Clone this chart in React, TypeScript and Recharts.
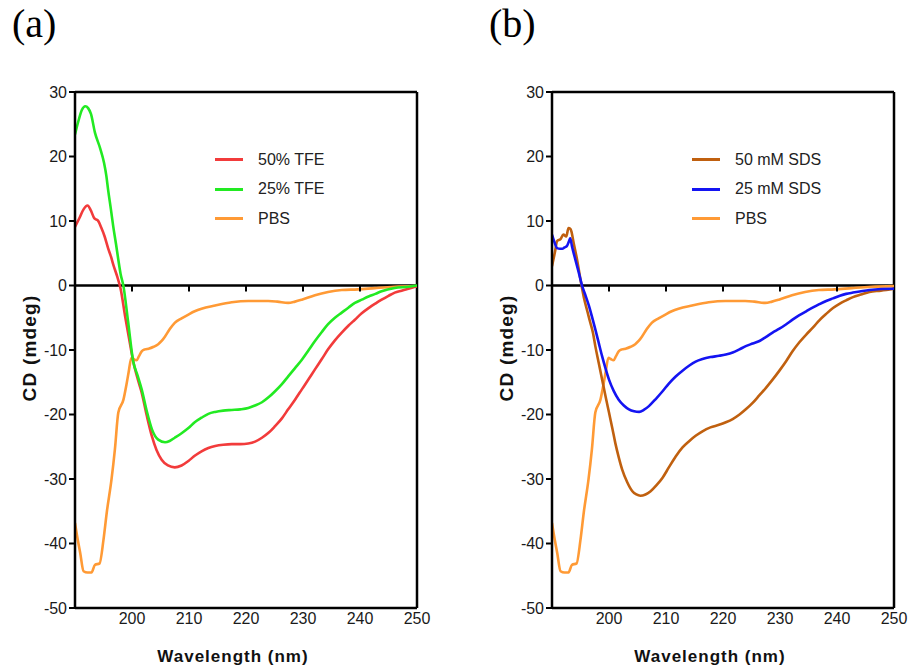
import React from 'react';
import { LineChart, Line, XAxis, YAxis, ReferenceLine, Legend } from 'recharts';

// wavelength (nm), CD (mdeg) pairs
const tfe50: [number, number][] = [
  [190, 9.1], [190.8, 10.5], [191.5, 11.8], [192.2, 12.4], [192.8, 11.6], [193.4, 10.4], [194.0, 10.1],
  [194.6, 9.0], [195.2, 7.6], [195.8, 5.8], [196.3, 4.5], [196.8, 3.0], [197.4, 1.4], [198.0, -0.5],
  [198.8, -4.8], [199.5, -8.3], [200.2, -11.7], [201.0, -14.5], [201.7, -16.6], [202.6, -20.2], [203.5, -23.4],
  [204.3, -25.5], [205.2, -27.0], [206.3, -27.9], [207.5, -28.2], [208.7, -27.9], [209.9, -27.2], [211.0, -26.4],
  [212.2, -25.7], [213.4, -25.2], [214.6, -24.9], [216.0, -24.7], [217.5, -24.6], [219.0, -24.6], [220.4, -24.5],
  [221.6, -24.2], [222.8, -23.6], [224.0, -22.8], [225.1, -21.8], [226.3, -20.6], [227.4, -19.2], [228.6, -17.7],
  [229.8, -16.1], [231.0, -14.5], [232.1, -13.0], [233.3, -11.4], [234.4, -9.9], [235.6, -8.5], [236.8, -7.3],
  [238.0, -6.2], [239.1, -5.3], [240.3, -4.3], [241.5, -3.5], [242.7, -2.8], [243.8, -2.2], [245.0, -1.6],
  [246.1, -1.1], [247.3, -0.8], [248.5, -0.5], [250, -0.1],
];

const tfe25: [number, number][] = [
  [190, 23.4], [190.6, 25.5], [191.2, 27.2], [191.8, 27.8], [192.3, 27.5], [192.8, 26.6], [193.5, 23.7],
  [194.4, 21.3], [195.1, 19.0], [195.5, 17.0], [195.8, 14.9], [196.3, 11.8], [196.7, 9.2], [197.2, 6.4],
  [197.6, 4.0], [198.0, 1.8], [198.5, -0.1], [199.3, -5.5], [200.2, -11.7], [201.0, -14.0], [201.7, -16.1],
  [202.6, -19.5], [203.5, -22.3], [204.6, -23.9], [205.8, -24.3], [206.6, -24.1], [207.5, -23.6], [208.7, -22.9],
  [209.9, -22.1], [211.0, -21.2], [212.2, -20.5], [213.4, -19.9], [214.6, -19.6], [216.0, -19.4], [217.5, -19.3],
  [219.0, -19.2], [220.4, -19.0], [221.6, -18.6], [222.8, -18.1], [224.0, -17.3], [225.1, -16.4], [226.3, -15.3],
  [227.4, -14.1], [228.6, -12.8], [229.8, -11.5], [231.0, -10.0], [232.1, -8.6], [233.3, -7.2], [234.4, -6.0],
  [235.6, -5.0], [236.8, -4.2], [238.0, -3.4], [239.1, -2.7], [240.3, -2.2], [241.5, -1.7], [242.7, -1.3],
  [243.8, -0.9], [246.1, -0.4], [248.5, -0.2], [250, 0],
];

const pbs: [number, number][] = [
  [190, -36.8], [190.5, -39.5], [190.9, -41.4], [191.5, -44.3], [192.2, -44.5], [192.9, -44.5], [193.5, -43.3],
  [194.3, -43.1], [195.0, -39.4], [195.6, -35.0], [196.4, -30.1], [197.0, -25.4], [197.6, -19.7], [198.5, -17.7],
  [199.0, -15.5], [199.4, -13.5], [199.9, -11.2], [200.3, -11.4], [200.8, -11.6], [201.2, -11.0], [201.7, -10.2],
  [202.3, -9.9], [202.9, -9.8], [203.8, -9.5], [204.6, -9.1], [205.2, -8.6], [205.8, -7.9], [206.6, -6.8],
  [207.5, -5.8], [208.7, -5.1], [209.9, -4.5], [211.0, -4.0], [212.2, -3.6], [214.6, -3.1], [217.5, -2.6],
  [220.4, -2.4], [223.9, -2.4], [225.5, -2.5], [227.4, -2.7], [228.6, -2.5], [229.8, -2.2], [232.1, -1.5],
  [234.4, -1.0], [236.8, -0.7], [239.6, -0.6], [242.6, -0.4], [246.0, -0.2], [250, -0.1],
];

const sds50: [number, number][] = [
  [190, 3.0], [190.5, 5.1], [190.9, 6.9], [191.5, 7.2], [192.0, 7.9], [192.5, 7.6], [192.9, 8.9], [193.2, 8.8],
  [193.4, 8.4], [193.8, 6.6], [194.4, 4.0], [195.0, 0.9], [195.6, -1.9], [196.2, -4.0], [196.7, -5.7],
  [197.2, -7.4], [197.6, -9.4], [198.2, -12.0], [198.8, -14.6], [199.4, -17.2], [200.0, -19.7], [200.6, -22.2],
  [201.1, -24.4], [201.7, -26.6], [202.3, -28.5], [203.2, -30.5], [204.1, -31.9], [204.8, -32.4], [205.5, -32.6],
  [206.4, -32.4], [207.3, -31.9], [208.3, -31.0], [209.4, -29.8], [210.5, -28.2], [211.7, -26.5], [212.9, -25.1],
  [214.1, -24.1], [215.2, -23.3], [216.4, -22.6], [217.8, -22.0], [219.3, -21.6], [220.5, -21.2], [221.7, -20.7],
  [222.9, -20.0], [224.0, -19.2], [225.2, -18.2], [226.4, -17.0], [227.5, -15.9], [228.7, -14.6], [229.9, -13.2],
  [231.1, -11.7], [232.2, -10.2], [233.4, -8.8], [234.6, -7.6], [235.8, -6.5], [236.9, -5.4], [238.1, -4.4],
  [239.3, -3.5], [240.5, -2.8], [241.6, -2.3], [242.8, -1.8], [244.2, -1.4], [245.7, -1.0], [247.7, -0.8],
  [250, -0.5],
];

const sds25: [number, number][] = [
  [190, 7.9], [190.4, 6.8], [190.9, 5.8], [191.4, 5.7], [191.8, 5.7], [192.2, 5.9], [192.6, 6.1], [193.0, 6.9],
  [193.2, 7.3], [193.5, 6.1], [194.1, 4.0], [194.7, 2.0], [195.3, -0.1], [195.9, -1.6], [196.5, -3.2],
  [197.0, -4.8], [197.6, -6.8], [198.2, -8.9], [198.8, -11.0], [199.4, -12.9], [200.0, -14.6], [200.8, -16.3],
  [201.7, -17.7], [202.6, -18.6], [203.5, -19.2], [204.4, -19.5], [205.3, -19.6], [206.1, -19.3], [207.0, -18.7],
  [208.2, -17.6], [209.4, -16.4], [210.5, -15.2], [211.7, -14.1], [212.9, -13.2], [214.1, -12.4], [215.2, -11.8],
  [216.4, -11.4], [217.8, -11.1], [219.3, -10.9], [220.5, -10.7], [221.7, -10.4], [222.9, -9.9], [224.0, -9.4],
  [225.2, -9.0], [226.4, -8.6], [227.5, -8.0], [228.7, -7.3], [229.9, -6.7], [231.1, -6.0], [232.2, -5.3],
  [233.4, -4.6], [234.6, -4.0], [235.8, -3.4], [236.9, -2.9], [238.1, -2.4], [239.3, -2.0], [240.5, -1.6],
  [241.6, -1.3], [242.8, -1.1], [245.7, -0.7], [249.8, -0.5], [250, -0.5],
];

const xTicks = [200, 210, 220, 230, 240, 250];
const yTicks = [30, 20, 10, 0, -10, -20, -30, -40, -50];
const Y_MIN = -50;
const Y_MAX = 30;
const PLOT_H = 516;
const TICK_MARGIN = 5;

const FONT = '"Liberation Sans", Arial, sans-serif';

type Series = { name: string; color: string; data: [number, number][] };

const panelA: Series[] = [
  { name: '50% TFE', color: '#f23b3b', data: tfe50 },
  { name: '25% TFE', color: '#22ea22', data: tfe25 },
  { name: 'PBS', color: '#ff9a35', data: pbs },
];

const panelB: Series[] = [
  { name: '50 mM SDS', color: '#c0600f', data: sds50 },
  { name: '25 mM SDS', color: '#1414f2', data: sds25 },
  { name: 'PBS', color: '#ff9a35', data: pbs },
];

const toPoints = (pairs: [number, number][]) => pairs.map(([nm, cd]) => ({ nm, cd }));

// bottom label plus the small tick that hangs off the zero line
const XTick = (props: any) => {
  const { x, y, payload } = props;
  const zeroY = y - TICK_MARGIN - (PLOT_H * (0 - Y_MIN)) / (Y_MAX - Y_MIN);
  return (
    <g>
      {payload.value < 250 && <line x1={x} y1={zeroY} x2={x} y2={zeroY + 6} stroke="#000" strokeWidth={2} />}
      <text x={x} y={y} dy="0.71em" textAnchor="middle" fontSize={16} fill="#1a1a1a" fontFamily={FONT}>
        {payload.value}
      </text>
    </g>
  );
};

const LegendBox = ({ items }: { items: Series[] }) => (
  <div style={{ fontFamily: FONT, fontSize: 16, color: '#222' }}>
    {items.map((s) => (
      <div key={s.name} style={{ display: 'flex', alignItems: 'center', height: 29.5 }}>
        <span style={{ width: 28, height: 3, background: s.color, marginRight: 15 }} />
        <span>{s.name}</span>
      </div>
    ))}
  </div>
);

const Panel = ({ series, left, width, label }: { series: Series[]; left: number; width: number; label: string }) => {
  const tick = { fontSize: 16, fill: '#1a1a1a', fontFamily: FONT };
  // PBS underneath the other two
  const order = [series[2], series[0], series[1]];
  return (
    <div style={{ position: 'absolute', left, top: 0, width, height: 668 }}>
      <div style={{ position: 'absolute', left: 12, top: 4, fontFamily: '"Liberation Serif", serif', fontSize: 40, lineHeight: 1 }}>
        {label}
      </div>
      <LineChart width={width} height={668} margin={{ top: 92, right: width - 417, bottom: 30, left: 45 }}>
        <XAxis
          dataKey="nm"
          type="number"
          domain={[190, 250]}
          ticks={xTicks}
          height={30}
          tickLine={false}
          tickSize={0}
          tickMargin={TICK_MARGIN}
          axisLine={{ stroke: '#000', strokeWidth: 2.5 }}
          tick={<XTick />}
          allowDataOverflow
        />
        <YAxis
          type="number"
          domain={[Y_MIN, Y_MAX]}
          ticks={yTicks}
          width={30}
          tickSize={6}
          tickMargin={2}
          axisLine={{ stroke: '#000', strokeWidth: 2.5 }}
          tickLine={{ stroke: '#000', strokeWidth: 2 }}
          tick={tick}
          allowDataOverflow
        />
        <ReferenceLine y={Y_MAX} stroke="#000" strokeWidth={2.5} ifOverflow="visible" />
        <ReferenceLine x={250} stroke="#000" strokeWidth={2.5} ifOverflow="visible" />
        <ReferenceLine y={0} stroke="#000" strokeWidth={2.5} ifOverflow="visible" />
        {order.map((s) => (
          <Line
            key={s.name}
            data={toPoints(s.data)}
            dataKey="cd"
            name={s.name}
            type="monotone"
            stroke={s.color}
            strokeWidth={2.6}
            dot={false}
            isAnimationActive={false}
          />
        ))}
        <Legend
          layout="vertical"
          align="center"
          verticalAlign="middle"
          wrapperStyle={{ left: 215, top: 145, width: 'auto' }}
          content={() => <LegendBox items={series} />}
        />
      </LineChart>
      <div
        style={{
          position: 'absolute', left: 30, top: 348, transform: 'translate(-50%, -50%) rotate(-90deg)',
          fontFamily: FONT, fontWeight: 'bold', fontSize: 19, letterSpacing: 1.2, whiteSpace: 'nowrap', color: '#111',
        }}
      >
        CD (mdeg)
      </div>
      <div
        style={{
          position: 'absolute', left: 233, top: 657, transform: 'translate(-50%, -50%)',
          fontFamily: FONT, fontWeight: 'bold', fontSize: 17, letterSpacing: 1, whiteSpace: 'nowrap', color: '#111',
        }}
      >
        Wavelength (nm)
      </div>
    </div>
  );
};

export default function App() {
  return (
    <div style={{ position: 'absolute', left: 0, top: 0, width: 909, height: 668, background: '#fff', overflow: 'hidden' }}>
      <Panel series={panelA} left={0} width={440} label="(a)" />
      <Panel series={panelB} left={477} width={432} label="(b)" />
    </div>
  );
}
